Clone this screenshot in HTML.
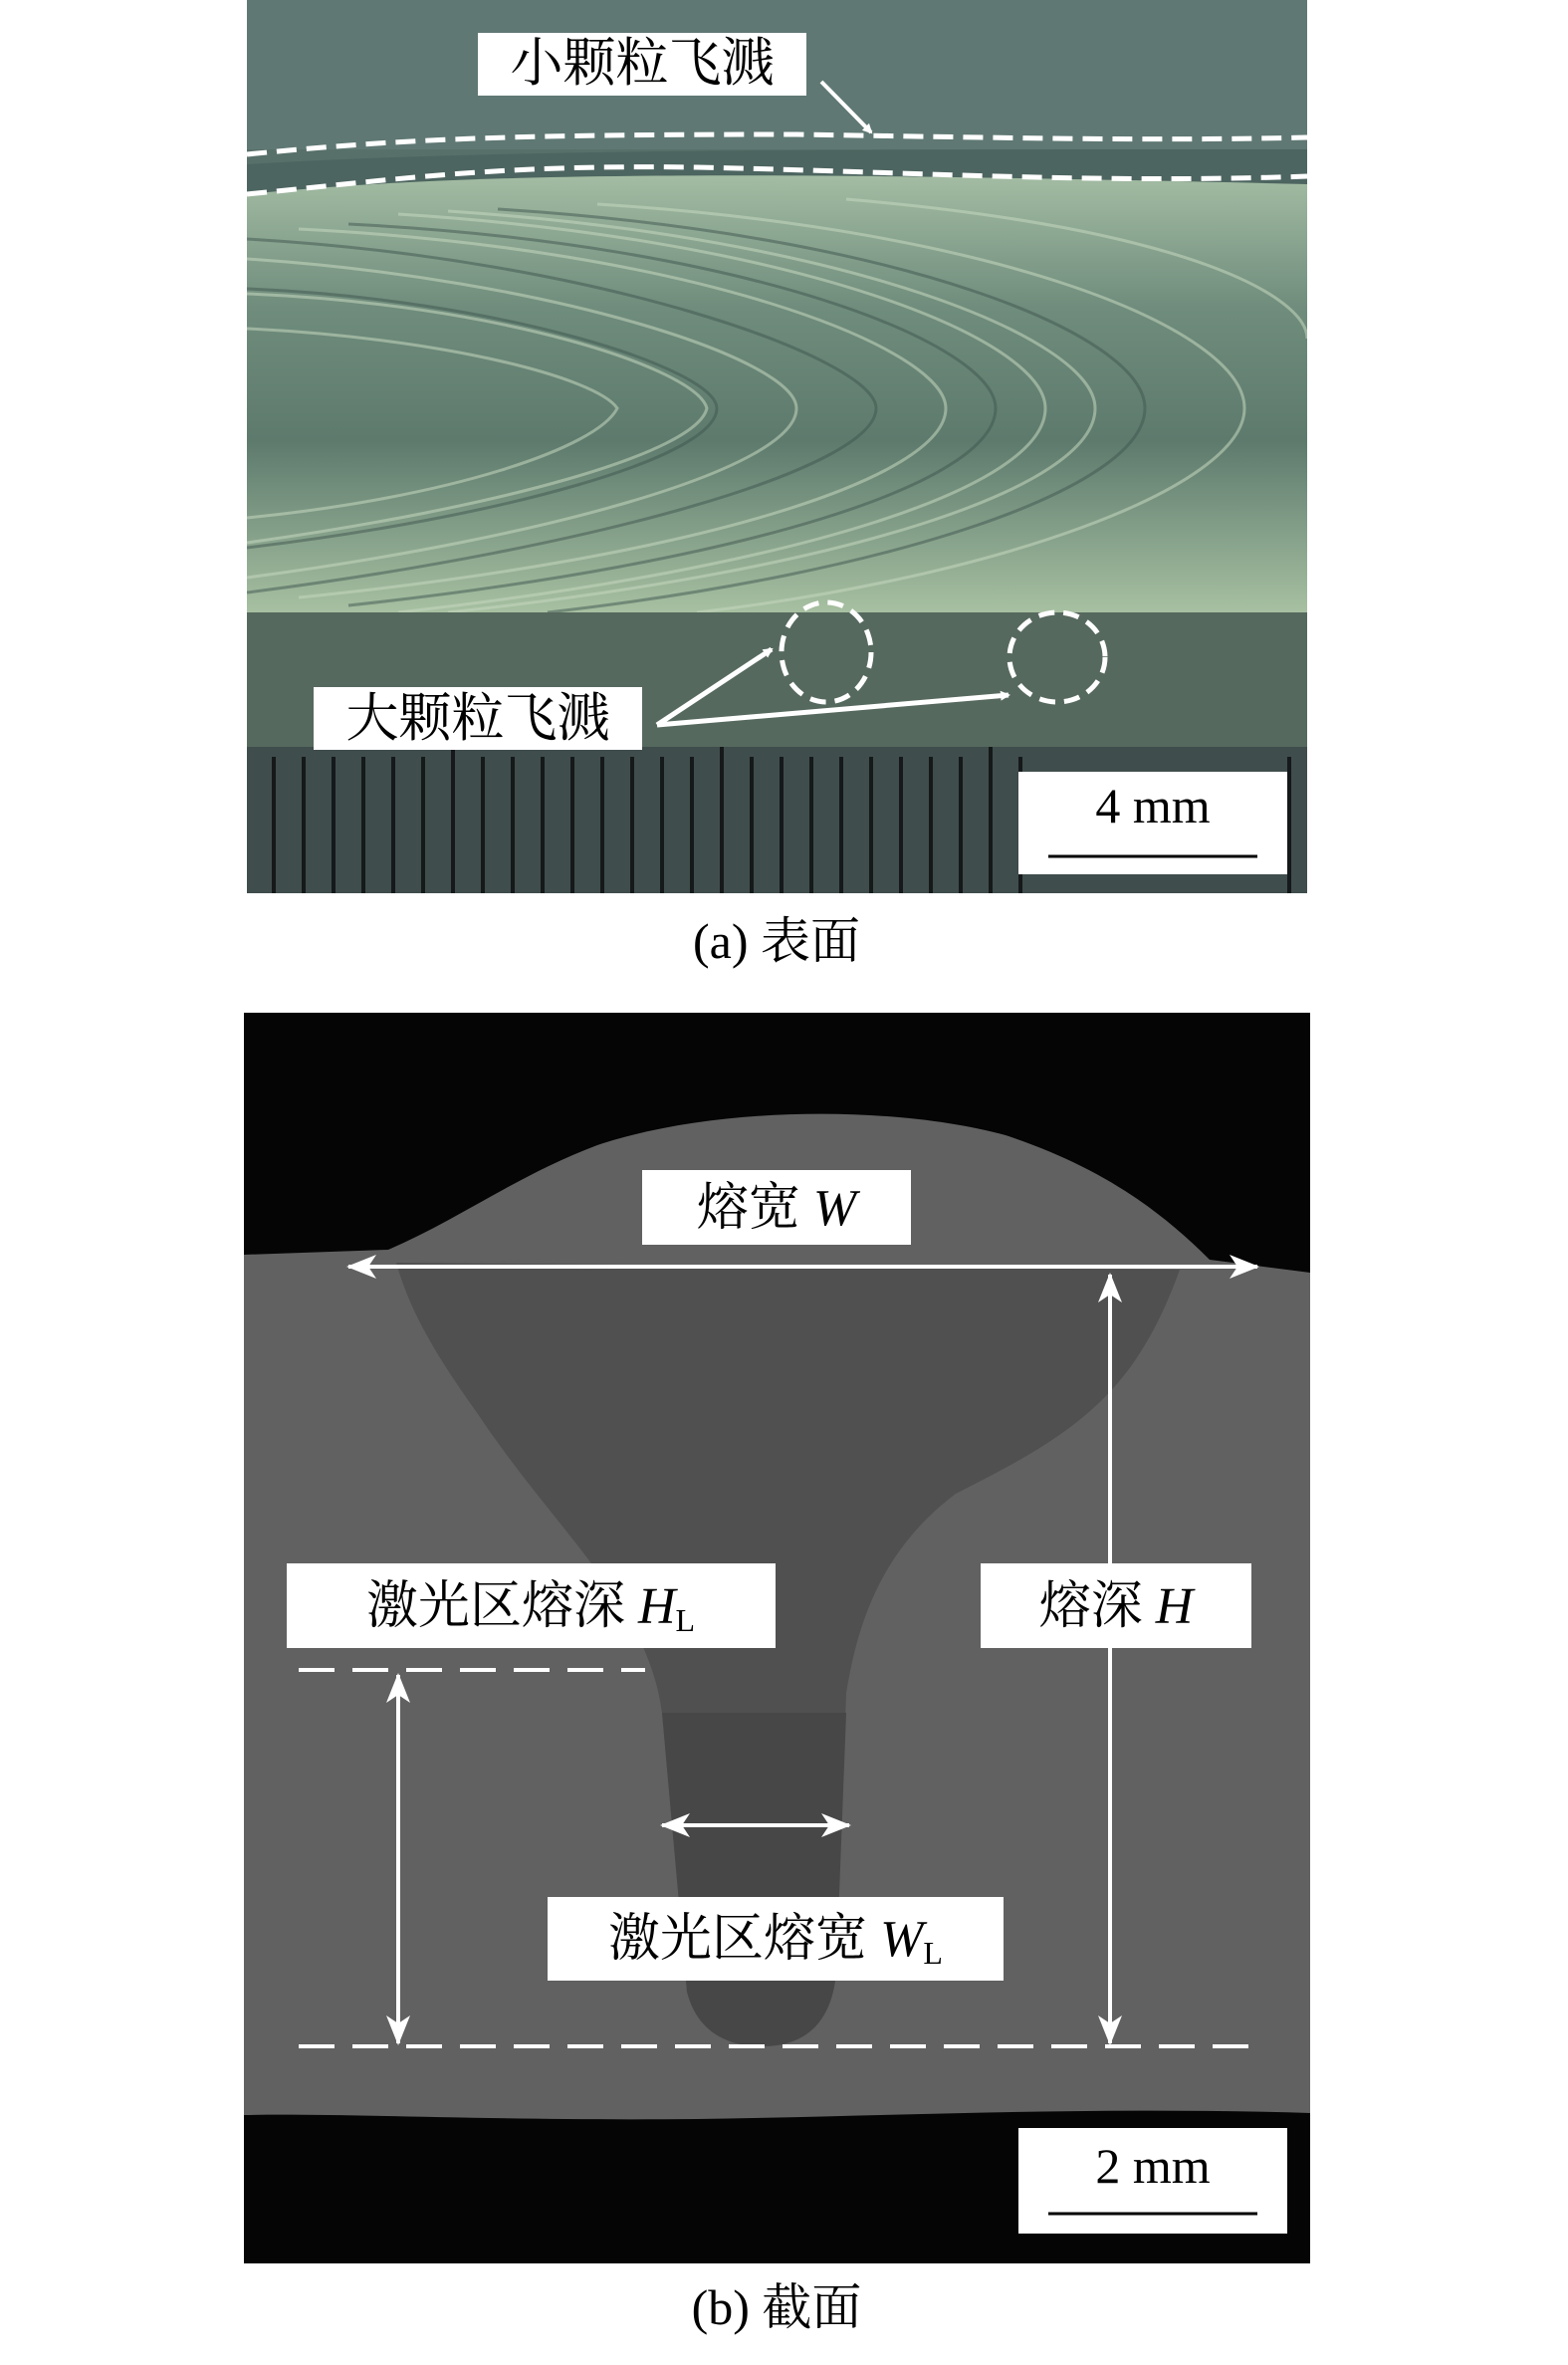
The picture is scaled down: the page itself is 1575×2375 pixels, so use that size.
<!DOCTYPE html>
<html><head><meta charset="utf-8"><style>
html,body{margin:0;padding:0;background:#fff;}
svg{display:block;}
text{font-family:"Liberation Serif","Noto Serif CJK SC",serif;}
</style></head><body>
<svg width="1575" height="2375" viewBox="0 0 1575 2375" xmlns="http://www.w3.org/2000/svg">
<defs>
<linearGradient id="bead" x1="0" y1="0" x2="0" y2="1">
<stop offset="0" stop-color="#a3bca3"/><stop offset="0.3" stop-color="#6f8c7c"/><stop offset="0.6" stop-color="#5d7a6d"/><stop offset="1" stop-color="#a9c2a3"/>
</linearGradient>
<marker id="ah" markerWidth="10" markerHeight="10" refX="8" refY="5" orient="auto" markerUnits="userSpaceOnUse" viewBox="0 0 10 10">
<path d="M0,0 L10,5 L0,10 z" fill="#fff"/></marker>
<marker id="ab" markerWidth="30" markerHeight="24" refX="28" refY="12" orient="auto-start-reverse" markerUnits="userSpaceOnUse">
<path d="M0,0 L30,12 L0,24 L8,12 z" fill="#fff"/></marker>
<clipPath id="ca"><rect x="248" y="0" width="1065" height="897"/></clipPath>
</defs>

<!-- Panel a -->
<g clip-path="url(#ca)">
<rect x="248" y="0" width="1065" height="897" fill="#58706a"/>
<rect x="248" y="0" width="1065" height="150" fill="#5f7873"/>
<path d="M248,165 C500,150 800,150 1313,150 L1313,190 L248,200 z" fill="#4d6560"/>
<path d="M248,195 C450,175 700,170 1313,185 L1313,620 L248,615 z" fill="url(#bead)"/>
<g fill="none" stroke="#c6d8bf" stroke-width="3" opacity="0.55">
<path d="M300,230 C700,250 950,350 950,410 C950,480 700,560 300,600"/>
<path d="M400,215 C800,240 1050,340 1050,410 C1050,490 800,570 400,615"/>
<path d="M248,260 C550,280 800,360 800,410 C800,470 550,540 248,580"/>
<path d="M600,205 C1000,230 1250,330 1250,410 C1250,490 1000,580 700,615"/>
<path d="M248,330 C450,340 600,380 620,410 C600,450 450,500 248,520"/>
<path d="M850,200 C1200,230 1313,300 1313,340"/>
<path d="M450,212 C850,238 1100,340 1100,410 C1100,490 850,572 450,615"/>
<path d="M248,295 C500,305 700,370 710,410 C700,455 500,510 248,545"/>
</g>
<g fill="none" stroke="#3f5650" stroke-width="3" opacity="0.5">
<path d="M350,225 C750,245 1000,345 1000,410 C1000,485 750,565 350,608"/>
<path d="M248,290 C500,300 720,370 720,410 C720,460 500,520 248,550"/>
<path d="M500,210 C900,235 1150,335 1150,410 C1150,490 900,575 550,615"/>
<path d="M248,240 C600,260 880,360 880,410 C880,470 600,550 248,595"/>
</g>
<rect x="248" y="615" width="1065" height="135" fill="#56695e"/>
<rect x="248" y="750" width="1065" height="147" fill="#3f4d4c"/>
<g stroke="#15191a" stroke-width="4">
<line x1="275" y1="760" x2="275" y2="897"/><line x1="305" y1="760" x2="305" y2="897"/><line x1="335" y1="760" x2="335" y2="897"/><line x1="365" y1="760" x2="365" y2="897"/><line x1="395" y1="760" x2="395" y2="897"/><line x1="425" y1="760" x2="425" y2="897"/><line x1="455" y1="750" x2="455" y2="897"/><line x1="485" y1="760" x2="485" y2="897"/><line x1="515" y1="760" x2="515" y2="897"/><line x1="545" y1="760" x2="545" y2="897"/><line x1="575" y1="760" x2="575" y2="897"/><line x1="605" y1="760" x2="605" y2="897"/><line x1="635" y1="760" x2="635" y2="897"/><line x1="665" y1="760" x2="665" y2="897"/><line x1="695" y1="760" x2="695" y2="897"/><line x1="725" y1="750" x2="725" y2="897"/><line x1="755" y1="760" x2="755" y2="897"/><line x1="785" y1="760" x2="785" y2="897"/><line x1="815" y1="760" x2="815" y2="897"/><line x1="845" y1="760" x2="845" y2="897"/><line x1="875" y1="760" x2="875" y2="897"/><line x1="905" y1="760" x2="905" y2="897"/><line x1="935" y1="760" x2="935" y2="897"/><line x1="965" y1="760" x2="965" y2="897"/><line x1="995" y1="750" x2="995" y2="897"/><line x1="1025" y1="760" x2="1025" y2="897"/><line x1="1295" y1="760" x2="1295" y2="897"/>
</g>
</g>
<path d="M248,155 C400,140 500,135 800,135 C1000,138 1150,142 1313,138" fill="none" stroke="#fff" stroke-width="5" stroke-dasharray="20,10"/>
<path d="M248,195 C400,180 500,165 700,168 C900,172 1100,185 1313,177" fill="none" stroke="#fff" stroke-width="5" stroke-dasharray="20,10"/>
<rect x="480" y="33" width="330" height="63" fill="#fff"/>
<text x="645" y="81" font-size="53" text-anchor="middle">小颗粒飞溅</text>
<line x1="825" y1="82" x2="875" y2="133" stroke="#fff" stroke-width="4" marker-end="url(#ah)"/>
<ellipse cx="830" cy="655" rx="45" ry="50" fill="none" stroke="#fff" stroke-width="5" stroke-dasharray="16,9"/>
<ellipse cx="1062" cy="660" rx="48" ry="45" fill="none" stroke="#fff" stroke-width="5" stroke-dasharray="16,9"/>
<rect x="315" y="690" width="330" height="63" fill="#fff"/>
<text x="480" y="739" font-size="53" text-anchor="middle">大颗粒飞溅</text>
<line x1="660" y1="728" x2="775" y2="652" stroke="#fff" stroke-width="5" marker-end="url(#ah)"/>
<line x1="660" y1="728" x2="1013" y2="698" stroke="#fff" stroke-width="5" marker-end="url(#ah)"/>
<rect x="1023" y="775" width="270" height="103" fill="#fff"/>
<text x="1158" y="826" font-size="50" text-anchor="middle">4 mm</text>
<line x1="1053" y1="860" x2="1263" y2="860" stroke="#000" stroke-width="3"/>
<text x="780" y="962" font-size="50" text-anchor="middle">(a) 表面</text>

<!-- Panel b -->
<rect x="245" y="1017" width="1071" height="1256" fill="#050505"/>
<path d="M245,1260 L390,1255 C460,1225 520,1180 600,1150 C720,1110 900,1110 1010,1140 C1100,1170 1160,1210 1215,1265 L1316,1278 L1316,2122 C1100,2115 900,2125 700,2128 C500,2130 350,2122 245,2124 z" fill="#616161"/>
<path d="M398,1268 L1185,1275 C1140,1400 1080,1440 960,1500 C880,1560 860,1640 850,1700 L840,1980 C835,2040 800,2055 765,2055 C730,2055 700,2040 690,2000 L665,1720 C650,1610 560,1540 480,1420 C430,1350 410,1310 398,1268 z" fill="#505050"/>
<path d="M665,1720 L850,1720 L840,1980 C835,2040 800,2055 765,2055 C730,2055 700,2040 690,2000 z" fill="#474747"/>
<rect x="645" y="1175" width="270" height="75" fill="#fff"/>
<text x="780" y="1230" font-size="52" text-anchor="middle">熔宽 <tspan font-style="italic">W</tspan></text>
<line x1="350" y1="1272" x2="1263" y2="1272" stroke="#fff" stroke-width="4" marker-start="url(#ab)" marker-end="url(#ab)"/>
<line x1="1115" y1="1280" x2="1115" y2="2052" stroke="#fff" stroke-width="4" marker-start="url(#ab)" marker-end="url(#ab)"/>
<rect x="985" y="1570" width="272" height="85" fill="#fff"/>
<text x="1121" y="1630" font-size="52" text-anchor="middle">熔深 <tspan font-style="italic">H</tspan></text>
<rect x="288" y="1570" width="491" height="85" fill="#fff"/>
<text x="533" y="1630" font-size="52" text-anchor="middle">激光区熔深 <tspan font-style="italic">H</tspan><tspan font-size="32" dy="8">L</tspan></text>
<line x1="300" y1="1677" x2="648" y2="1677" stroke="#fff" stroke-width="4" stroke-dasharray="36,18"/>
<line x1="400" y1="1682" x2="400" y2="2052" stroke="#fff" stroke-width="4" marker-start="url(#ab)" marker-end="url(#ab)"/>
<line x1="300" y1="2055" x2="1262" y2="2055" stroke="#fff" stroke-width="4" stroke-dasharray="36,18"/>
<line x1="665" y1="1833" x2="853" y2="1833" stroke="#fff" stroke-width="4" marker-start="url(#ab)" marker-end="url(#ab)"/>
<rect x="550" y="1905" width="458" height="84" fill="#fff"/>
<text x="779" y="1964" font-size="52" text-anchor="middle">激光区熔宽 <tspan font-style="italic">W</tspan><tspan font-size="32" dy="8">L</tspan></text>
<rect x="1023" y="2137" width="270" height="106" fill="#fff"/>
<text x="1158" y="2192" font-size="50" text-anchor="middle">2 mm</text>
<line x1="1053" y1="2223" x2="1263" y2="2223" stroke="#000" stroke-width="3"/>
<text x="780" y="2334" font-size="50" text-anchor="middle">(b) 截面</text>
</svg>
</body></html>
